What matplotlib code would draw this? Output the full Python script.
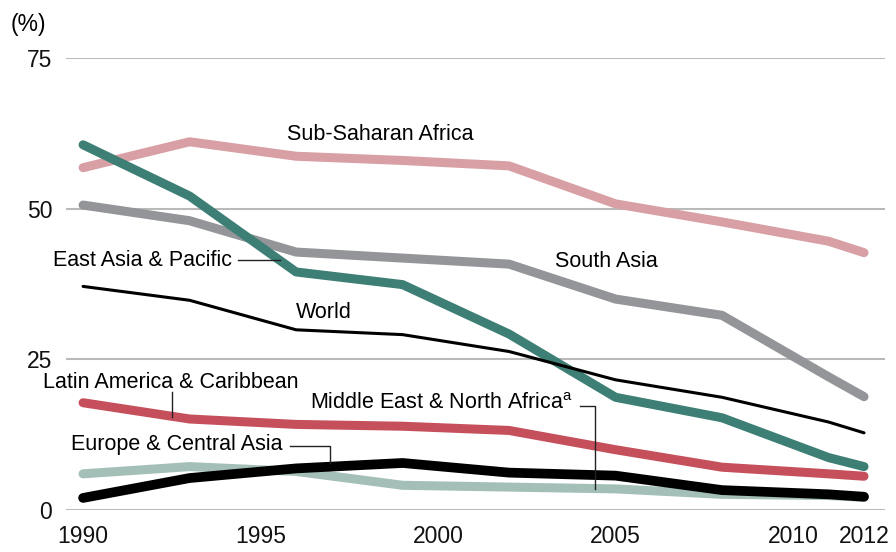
import numpy as np
import matplotlib.pyplot as plt

plt.rcParams['font.family'] = ['Liberation Sans', 'DejaVu Sans']
plt.rcParams['mathtext.fontset'] = 'custom'
plt.rcParams['mathtext.rm'] = 'Liberation Sans'

years = [1990, 1993, 1996, 1999, 2002, 2005, 2008, 2011, 2012]

ssa = [56.8, 61.1, 58.7, 58.0, 57.1, 50.8, 47.8, 44.6, 42.7]
south_asia = [50.6, 48.0, 42.8, 41.8, 40.8, 35.0, 32.3, 22.1, 18.8]
east_asia = [60.6, 52.1, 39.5, 37.4, 29.2, 18.7, 15.3, 8.7, 7.2]
world = [37.1, 34.8, 29.9, 29.1, 26.3, 21.6, 18.7, 14.6, 12.8]
latam = [17.8, 15.1, 14.2, 13.9, 13.2, 10.0, 7.1, 6.0, 5.6]
eca = [6.0, 7.2, 6.4, 4.1, 3.8, 3.5, 2.6, 2.4, 2.1]
mena = [2.0, 5.3, 6.9, 7.8, 6.2, 5.7, 3.3, 2.6, 2.2]

fig = plt.figure(figsize=(8.96, 5.52), dpi=100)
ax = fig.add_axes([0.0737, 0.0761, 0.914, 0.8188])

# grid lines
for v in [0, 25, 50, 75]:
    ax.axhline(v, color='#bababa', lw=1.5, zorder=1)

def draw(vals, color, lw, z):
    ax.plot(years, vals, color=color, lw=lw, solid_capstyle='round',
            solid_joinstyle='round', clip_on=False, zorder=z)

draw(ssa, '#d8a0a4', 6.5, 2)
draw(south_asia, '#939598', 6.5, 3)
draw(east_asia, '#3d7f74', 6.5, 4)
draw(world, 'black', 2.2, 5)
draw(latam, '#c5505c', 6.5, 4)
draw(eca, '#a3bfb8', 6.5, 5)
draw(mena, 'black', 7, 6)

fs = 15.5
ax.text(1995.75, 62.3, 'Sub-Saharan Africa', fontsize=fs, va='center')
ax.text(2003.3, 41.3, 'South Asia', fontsize=fs, va='center')
ax.text(1994.2, 41.4, 'East Asia & Pacific', fontsize=fs, va='center', ha='right')
ax.text(1996.0, 32.8, 'World', fontsize=fs, va='center')
ax.text(1988.87, 21.2, 'Latin America & Caribbean', fontsize=fs, va='center')
ax.text(1996.39, 17.6, 'Middle East & North Africa$^{\\mathrm{a}}$', fontsize=fs, va='center')
ax.text(1989.66, 10.8, 'Europe & Central Asia', fontsize=fs, va='center')

# leader lines
lc = dict(color='#222222', lw=1, zorder=7, clip_on=False)
ax.plot([1994.37, 1995.55], [41.46, 41.46], **lc)
ax.plot([1992.51, 1992.51], [19.6, 15.4], **lc)
ax.plot([2004.0, 2004.42, 2004.42], [17.25, 17.25, 3.5], **lc)
ax.plot([1995.83, 1996.96, 1996.96], [10.6, 10.6, 7.8], **lc)

ax.set_xlim(1989.52, 2012.59)
ax.set_ylim(0, 75)
ax.set_xticks([1990, 1995, 2000, 2005, 2010, 2012])
ax.set_yticks([0, 25, 50, 75])
ax.tick_params(length=0, labelsize=16.5, colors='#111111')
ax.tick_params(axis='x', pad=11)
ax.tick_params(axis='y', pad=10)
for s in ax.spines.values():
    s.set_visible(False)

fig.text(0.012, 0.955, '(%)', fontsize=16.5, va='center')

fig.savefig('out.png', dpi=100)
